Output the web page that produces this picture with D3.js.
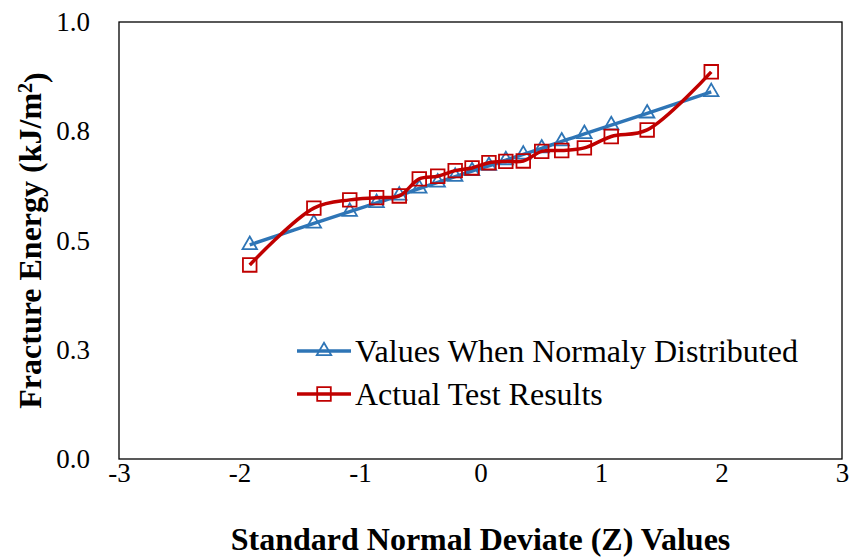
<!doctype html>
<html lang="en">
<head>
	<meta charset="UTF-8">
	<title>Fracture Energy</title>
	<script src="https://cdn.jsdelivr.net/npm/d3@7"></script>
	<style>
		body { margin: 0; background: #fff; }
		svg text { font-family: "Liberation Serif", "DejaVu Serif", serif !important; }
	</style>
</head>
<body>
<div id="container"></div>
<script>
	var width = 851, height = 559;
	var margin = { left: 119, top: 22, right: 9, bottom: 100 };
	var g_width = width - margin.left - margin.right;
	var g_height = height - margin.top - margin.bottom;

	// z values (standard normal deviate)
	var z_values = [-1.915, -1.383, -1.085, -0.862, -0.674, -0.508, -0.355, -0.210, -0.070,
		0.070, 0.210, 0.355, 0.508, 0.674, 0.862, 1.085, 1.383, 1.915];
	var normal_values = [0.490, 0.539, 0.566, 0.586, 0.603, 0.619, 0.633, 0.646, 0.659,
		0.671, 0.684, 0.697, 0.711, 0.727, 0.744, 0.764, 0.791, 0.840];
	var actual_values = [0.444, 0.574, 0.593, 0.598, 0.602, 0.641, 0.647, 0.660, 0.666,
		0.678, 0.681, 0.682, 0.704, 0.706, 0.712, 0.738, 0.753, 0.886];
	var x_ticks = [-3, -2, -1, 0, 1, 2, 3];
	var y_ticks = [0, 0.25, 0.5, 0.75, 1.0];
	var series_names = ["Values When Normaly Distributed", "Actual Test Results"];
	var blue = "#2E75B6", red = "#C00000";

	var scale_x = d3.scaleLinear().domain([-3, 3]).range([0, g_width]);
	var scale_y = d3.scaleLinear().domain([0, 1]).range([g_height, 0]);

	var svg = d3.select("#container").append("svg")
		.attr("width", width).attr("height", height);
	var g = svg.append("g")
		.attr("transform", "translate(" + margin.left + "," + margin.top + ")");

	// plot frame
	g.append("rect")
		.attr("width", g_width).attr("height", g_height)
		.attr("fill", "none").attr("stroke", "#000").attr("stroke-width", 1.3);

	var x_axis = d3.axisBottom(scale_x).tickValues(x_ticks).tickSize(0).tickPadding(4)
		.tickFormat(function (d) { return String(d); });
	var xg = g.append("g").attr("transform", "translate(0," + g_height + ")").call(x_axis);
	xg.attr("font-size", 27);
	xg.select(".domain").remove();
	xg.selectAll("text").attr("fill", "#000").attr("dy", "0.71em");

	var y_axis = d3.axisLeft(scale_y).tickValues(y_ticks).tickSize(0).tickPadding(29)
		.tickFormat(function (d) { return d3.format(".1f")(d + 1e-9); });
	var yg = g.append("g").call(y_axis);
	yg.attr("font-size", 27);
	yg.select(".domain").remove();
	yg.selectAll("text").attr("fill", "#000");

	var line_generator = d3.line()
		.x(function (d, i) { return scale_x(z_values[i]); })
		.y(function (d) { return scale_y(d); })
		.curve(d3.curveCatmullRom.alpha(0.5));

	var tri = d3.symbol().type(d3.symbolTriangle).size(90);
	var sq = d3.symbol().type(d3.symbolSquare).size(185);

	g.selectAll(".tri").data(normal_values).enter().append("path")
		.attr("class", "tri").attr("d", tri)
		.attr("transform", function (d, i) { return "translate(" + scale_x(z_values[i]) + "," + scale_y(d) + ")"; })
		.attr("fill", "none").attr("stroke", blue).attr("stroke-width", 1.8);
	g.append("path").attr("d", line_generator(normal_values))
		.attr("fill", "none").attr("stroke", blue).attr("stroke-width", 3.5);

	g.selectAll(".sq").data(actual_values).enter().append("path")
		.attr("class", "sq").attr("d", sq)
		.attr("transform", function (d, i) { return "translate(" + scale_x(z_values[i]) + "," + scale_y(d) + ")"; })
		.attr("fill", "none").attr("stroke", red).attr("stroke-width", 1.8);
	g.append("path").attr("d", line_generator(actual_values))
		.attr("fill", "none").attr("stroke", red).attr("stroke-width", 3.5);

	// legend
	var legend = svg.append("g").attr("transform", "translate(297,351)");
	var colors = [blue, red];
	var syms = [tri, sq];
	series_names.forEach(function (name, i) {
		var row = legend.append("g").attr("transform", "translate(0," + (i * 43) + ")");
		row.append("line").attr("x1", 0).attr("x2", 54).attr("y1", 0).attr("y2", 0)
			.attr("stroke", colors[i]).attr("stroke-width", 3.5);
		row.append("path").attr("d", syms[i]).attr("transform", "translate(27,0)")
			.attr("fill", "none").attr("stroke", colors[i]).attr("stroke-width", 1.8);
		row.append("text").attr("x", 58).attr("y", 0).attr("dy", "0.35em")
			.attr("font-size", 32).text(name);
	});

	// axis titles
	svg.append("text")
		.attr("x", margin.left + g_width / 2).attr("y", 550)
		.attr("text-anchor", "middle").attr("font-size", 32).attr("font-weight", "bold")
		.text("Standard Normal Deviate (Z) Values");

	var yt = svg.append("text")
		.attr("transform", "translate(41," + (margin.top + g_height / 2) + ") rotate(-90)")
		.attr("text-anchor", "middle").attr("font-size", 32).attr("font-weight", "bold");
	yt.append("tspan").text("Fracture Energy (kJ/m");
	yt.append("tspan").attr("dy", "-0.45em").attr("font-size", 20).text("2");
	yt.append("tspan").attr("dy", "0.45em").text(")");
</script>
</body>
</html>
